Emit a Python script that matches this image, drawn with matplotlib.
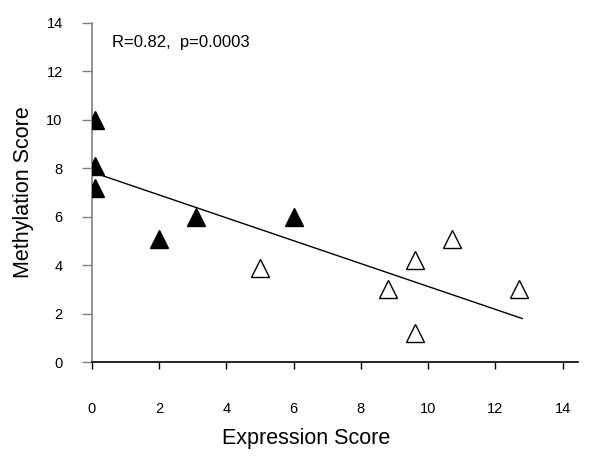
import matplotlib.pyplot as plt

plt.rcParams['font.family'] = ['Liberation Sans', 'DejaVu Sans']

# filled triangles
filled_x = [0.1, 0.1, 0.1, 2.0, 3.1, 6.0]
filled_y = [10.0, 8.1, 7.2, 5.1, 6.0, 6.0]

# open triangles
open_x = [5.0, 8.8, 9.6, 9.6, 10.7, 12.7]
open_y = [3.9, 3.0, 4.2, 1.2, 5.1, 3.0]

# regression line end points
fit_x = [0.1, 12.8]
fit_y = [7.8, 1.8]

ticks = [0, 2, 4, 6, 8, 10, 12, 14]

fig = plt.figure(figsize=(6, 4.59), dpi=100)
ax = fig.add_axes([0.153, 0.211, 0.81, 0.739])

ax.plot(fit_x, fit_y, color='black', linewidth=1, zorder=2)
ax.plot(filled_x, filled_y, linestyle='none', marker='^', markersize=12.5,
        color='black', zorder=3)
ax.plot(open_x, open_y, linestyle='none', marker='^', markersize=12.5,
        markerfacecolor='white', markeredgecolor='black', markeredgewidth=1, zorder=3)

ax.set_xlim(0, 14.45)
ax.set_ylim(0, 14)
ax.set_xticks(ticks)
ax.set_yticks(ticks)

ax.spines['top'].set_visible(False)
ax.spines['right'].set_visible(False)
ax.spines['left'].set_color('#808080')
ax.spines['left'].set_linewidth(1.2)
ax.spines['bottom'].set_linewidth(1.2)

ax.tick_params(axis='x', direction='out', length=5, pad=24, labelsize=10.5, width=1)
ax.tick_params(axis='y', direction='out', length=7, pad=14, labelsize=10.5, width=1,
               color='#808080')

ax.set_xlabel('Expression Score', fontsize=15.5)
ax.set_ylabel('Methylation Score', fontsize=15.5)
ax.xaxis.set_label_coords(0.442, -0.195)
ax.yaxis.set_label_coords(-0.118, 0.5)

ax.text(0.6, 13.2, 'R=0.82,  p=0.0003', fontsize=12, va='center')

fig.savefig('out.png', dpi=100)
